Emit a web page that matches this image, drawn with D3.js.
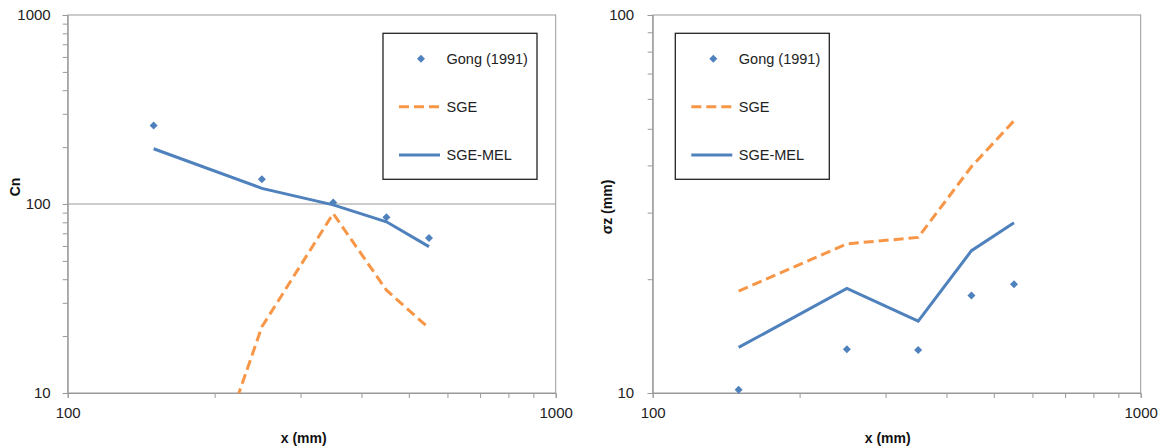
<html>
<head>
<script src="https://d3js.org/d3.v7.min.js"></script>
<style>
body { margin: 0; background: #fff; font-family: 'Liberation Sans', Arial, sans-serif; }
.tick text { font-size: 15px; fill: #222; }
.axis path, .axis line { stroke: #999; }
.title { font-size: 14px; font-weight: bold; fill: #111; }
.legend text { font-size: 14.5px; fill: #222; }
</style>
</head>
<body>
<svg id="chart" width="1159" height="448"></svg>
<script>
// Data
var xs = [150, 250, 350, 450, 550];
var gongCn = [260, 135, 102, 85, 66];
var sgeCn = [0.5, 22.4, 89, 35, 22];
var melCn = [196, 121, 99, 80.5, 59.5];
var gongSz = [10.2, 13.05, 13.0, 18.1, 19.4];
var sgeSz = [18.6, 24.8, 25.8, 39.7, 52.5];
var melSz = [13.2, 18.9, 15.5, 23.8, 28.2];
var seriesNames = ["Gong (1991)", "SGE", "SGE-MEL"];
var xTickLabels = [100, 1000];

var blue = "#4f81bd", orange = "#f79646";
var svg = d3.select("#chart");
var diamond = d3.symbol().type(d3.symbolSquare).size(32);

function minorTicks(lo, hi) {
  var t = [];
  for (var d = lo; d < hi; d *= 10)
    for (var k = 1; k < 10; k++) t.push(d * k);
  t.push(hi);
  return t;
}

function panel(opts) {
  var g = svg.append("g").attr("transform", "translate(" + opts.left + "," + opts.top + ")");
  var w = opts.width, h = opts.height;
  var x = d3.scaleLog().domain([100, 1000]).range([0, w]);
  var y = d3.scaleLog().domain(opts.yDomain).range([h, 0]);
  var isDecade = function (v) { return Math.abs(Math.log10(v) - Math.round(Math.log10(v))) < 1e-9; };

  // gridlines at decades
  g.selectAll("line.grid").data(opts.yGrid).enter().append("line")
    .attr("x1", 0).attr("x2", w).attr("y1", y).attr("y2", y)
    .style("stroke", "#999");
  g.append("rect").attr("width", w).attr("height", h)
    .style("fill", "none").style("stroke", "#999");

  var xAxis = d3.axisBottom(x).tickValues(minorTicks(100, 1000)).tickSize(5)
    .tickFormat(function (v) { return xTickLabels.indexOf(v) >= 0 ? v : ""; });
  g.append("g").attr("class", "axis").attr("transform", "translate(0," + h + ")").call(xAxis)
    .selectAll("text").attr("dy", "1.1em");
  var yAxis = d3.axisLeft(y).tickValues(minorTicks(opts.yDomain[0], opts.yDomain[1])).tickSize(5)
    .tickFormat(function (v) { return isDecade(v) ? v : ""; });
  g.append("g").attr("class", "axis").call(yAxis)
    .selectAll("text").attr("dx", opts.yLabelDx);

  var clipId = "clip" + opts.left;
  g.append("clipPath").attr("id", clipId).append("rect").attr("width", w).attr("height", h);

  var line = d3.line().x(function (d, i) { return x(xs[i]); }).y(function (d) { return y(d); });
  g.append("path").datum(opts.sge).attr("d", line).attr("clip-path", "url(#" + clipId + ")")
    .style("fill", "none").style("stroke", orange).style("stroke-width", 3).style("stroke-dasharray", "10,5");
  g.append("path").datum(opts.mel).attr("d", line).attr("clip-path", "url(#" + clipId + ")")
    .style("fill", "none").style("stroke", blue).style("stroke-width", 3);
  g.selectAll("path.pt").data(opts.gong).enter().append("path").attr("class", "pt")
    .attr("d", diamond)
    .attr("transform", function (d, i) { return "translate(" + x(xs[i]) + "," + y(d) + ") rotate(45)"; })
    .style("fill", blue);

  // axis titles
  g.append("text").attr("class", "title").attr("x", opts.xTitleX).attr("y", h + 50)
    .attr("text-anchor", "middle").text("x (mm)");
  g.append("text").attr("class", "title")
    .attr("transform", "translate(" + opts.yTitlePos[0] + "," + opts.yTitlePos[1] + ") rotate(-90)")
    .attr("text-anchor", "middle").text(opts.yTitle);

  // legend
  var lg = svg.append("g").attr("class", "legend").attr("transform", "translate(" + opts.legend[0] + "," + opts.legend[1] + ")");
  lg.append("rect").attr("width", 154).attr("height", 146)
    .style("fill", "#fff").style("stroke", "#222").style("stroke-width", 1.3);
  lg.append("path").attr("d", diamond)
    .attr("transform", "translate(38,25.4) rotate(45)").style("fill", blue);
  lg.append("line").attr("x1", 16).attr("x2", 57).attr("y1", 73.4).attr("y2", 73.4)
    .style("stroke", orange).style("stroke-width", 3).style("stroke-dasharray", "10,5");
  lg.append("line").attr("x1", 16).attr("x2", 57).attr("y1", 121.7).attr("y2", 121.7)
    .style("stroke", blue).style("stroke-width", 3);
  lg.selectAll("text").data(seriesNames).enter().append("text")
    .attr("x", 63.5).attr("y", function (d, i) { return 25.4 + i * 48.2; }).attr("dy", "0.35em")
    .text(function (d) { return d; });
}

panel({ left: 67.7, top: 15, width: 488, height: 378, yDomain: [10, 1000], yGrid: [100],
  gong: gongCn, sge: sgeCn, mel: melCn, xTitleX: 236, yTitle: "Cn", yTitlePos: [-48, 172],
  yLabelDx: "-0.6em", legend: [383, 33.3] });
panel({ left: 652.7, top: 15, width: 488, height: 378, yDomain: [10, 100], yGrid: [],
  gong: gongSz, sge: sgeSz, mel: melSz, xTitleX: 235, yTitle: "σz (mm)", yTitlePos: [-41, 192],
  yLabelDx: "-0.7em", legend: [675.3, 33.3] });
</script>
</body>
</html>
